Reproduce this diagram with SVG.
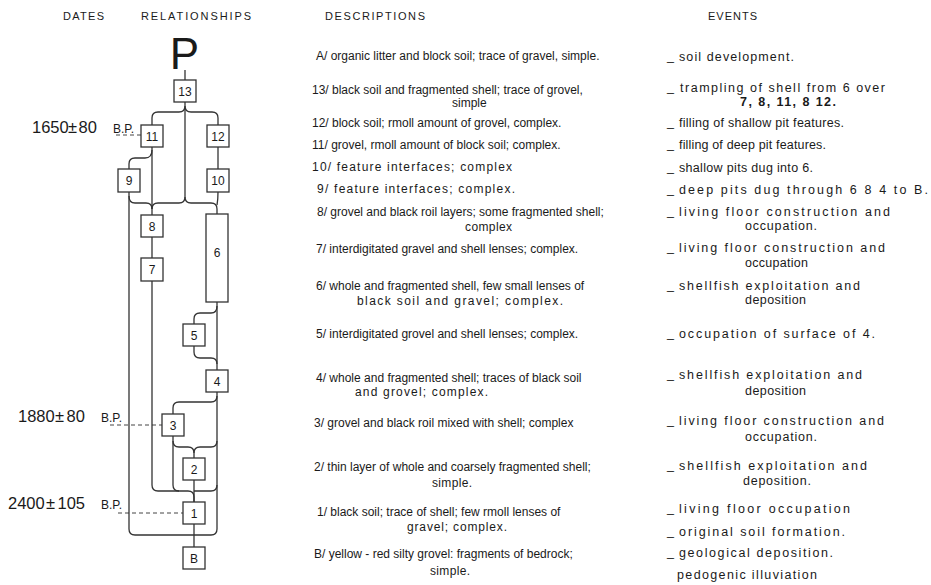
<svg xmlns="http://www.w3.org/2000/svg" width="931" height="585" viewBox="0 0 931 585">
<style>
text{font-family:"Liberation Sans",Arial,sans-serif;fill:#1a1a1a}
.hd{font-size:11px}
.d{font-size:12px}
.e{font-size:12.5px}
.dash{font-size:12.5px}
.box rect{fill:#fff;stroke:#333;stroke-width:1.3}
.box text{font-size:12px;text-anchor:middle}
.cn path{fill:none;stroke:#333;stroke-width:1.3}
.dt{font-size:16.5px}
.bp{font-size:12px}
.dl{fill:none;stroke:#444;stroke-width:1;stroke-dasharray:4 3}
</style>
<rect width="931" height="585" fill="#fff"/>
<g id="headers">
<text class="hd" x="63" y="19.5" textLength="41" lengthAdjust="spacing">DATES</text>
<text class="hd" x="141" y="19.5" textLength="110" lengthAdjust="spacing">RELATIONSHIPS</text>
<text class="hd" x="325" y="19.5" textLength="100" lengthAdjust="spacing">DESCRIPTIONS</text>
<text class="hd" x="708" y="19.5" textLength="49" lengthAdjust="spacing">EVENTS</text>
</g>
<text id="P" x="184.5" y="69" font-size="44" text-anchor="middle">P</text>
<g id="dates">
<text class="dt" x="32" y="133">1650<tspan x="68">±</tspan><tspan x="78.5">80</tspan><tspan class="bp" x="113">B.P.</tspan></text>
<text class="dt" x="18" y="422">1880<tspan x="55">±</tspan><tspan x="66.5">80</tspan><tspan class="bp" x="101">B.P.</tspan></text>
<text class="dt" x="8" y="509">2400<tspan x="46">±</tspan><tspan x="57.5">105</tspan><tspan class="bp" x="101">B.P.</tspan></text>
<path class="dl" d="M116,135 H141" stroke-dasharray="2 2"/>
<path class="dl" d="M110,425 H162"/>
<path class="dl" d="M118,513 H183"/>
</g>
<g class="cn" id="connectors">
<path d="M185,70 V80"/>
<path d="M152,125 V118 Q152,112 158,112 H179 Q185,112 185,106 Q185,112 191,112 H212 Q218,112 218,118 V125"/>
<path d="M185,102 V197"/>
<path d="M152,147 V215"/>
<path d="M152,150 Q152,158 145,158 H135 Q129,158 129,164 V169"/>
<path d="M218,147 V169"/>
<path d="M129,192 V529 Q129,535 135,535 H211 Q217,535 217,529 V392"/>
<path d="M129,196 Q129,203 135,203 H146 Q152,203 152,209"/>
<path d="M185,197 Q185,203 179,203 H158 Q152,203 152,209"/>
<path d="M185,197 Q185,203 191,203 H211 Q217,203 217,209 V214"/>
<path d="M218,192 Q218,200 217,205"/>
<path d="M152,237 V258"/>
<path d="M152,281 V485 Q152,491 158,491 H188 Q194,491 194,497 V502"/>
<path d="M217,302 V370"/>
<path d="M217,306 Q217,313 211,313 H200 Q194,313 194,319 V324"/>
<path d="M194,346 V352 Q194,358 200,358 H211 Q217,358 217,364"/>
<path d="M217,396 Q217,402 211,402 H179 Q173,402 173,408 V414"/>
<path d="M173,436 V485 Q173,491 179,491"/>
<path d="M173,441 Q173,447 179,447 H188 Q194,447 194,453 V458"/>
<path d="M194,453 Q194,447 200,447 H211 Q217,447 217,441"/>
<path d="M217,485 Q217,491 211,491 H194"/>
<path d="M194,480 V502"/>
<path d="M194,524 V547"/>
</g>
<g class="box" id="n13"><rect x="174" y="80" width="22" height="22"/><text x="185" y="95.5">13</text></g>
<g class="box" id="n11"><rect x="141" y="125" width="22" height="22"/><text x="152" y="140.5">11</text></g>
<g class="box" id="n12"><rect x="207" y="125" width="22" height="22"/><text x="218" y="140.5">12</text></g>
<g class="box" id="n9"><rect x="118" y="169" width="22" height="23"/><text x="129" y="185">9</text></g>
<g class="box" id="n10"><rect x="207" y="169" width="22" height="23"/><text x="218" y="185">10</text></g>
<g class="box" id="n8"><rect x="141" y="215" width="22" height="22"/><text x="152" y="230.5">8</text></g>
<g class="box" id="n7"><rect x="141" y="258" width="22" height="23"/><text x="152" y="274">7</text></g>
<g class="box" id="n6"><rect x="206" y="214" width="22" height="88"/><text x="217" y="257">6</text></g>
<g class="box" id="n5"><rect x="183" y="324" width="22" height="22"/><text x="194" y="339.5">5</text></g>
<g class="box" id="n4"><rect x="206" y="370" width="22" height="22"/><text x="217" y="385.5">4</text></g>
<g class="box" id="n3"><rect x="162" y="414" width="22" height="22"/><text x="173" y="429.5">3</text></g>
<g class="box" id="n2"><rect x="183" y="458" width="22" height="22"/><text x="194" y="473.5">2</text></g>
<g class="box" id="n1"><rect x="183" y="502" width="22" height="22"/><text x="194" y="517.5">1</text></g>
<g class="box" id="nB"><rect x="183" y="547" width="22" height="22"/><text x="194" y="562.5">B</text></g>
<g id="descriptions">
<text class="d" x="316" y="60">A/ organic litter and block soil; trace of gravel, simple.</text>
<text class="d" x="312" y="94">13/ black soil and fragmented shell; trace of grovel,</text>
<text class="d" x="452" y="107">simple</text>
<text class="d" x="312" y="127">12/ block soil; rmoll amount of grovel, complex.</text>
<text class="d" x="312" y="149">11/ grovel, rmoll amount of block soil; complex.</text>
<text class="d" x="312" y="171" textLength="200" lengthAdjust="spacing">10/ feature interfaces; complex</text>
<text class="d" x="317" y="193" textLength="198" lengthAdjust="spacing">9/ feature interfaces; complex.</text>
<text class="d" x="317" y="216">8/ grovel and black roil layers; some fragmented shell;</text>
<text class="d" x="465" y="231" textLength="47" lengthAdjust="spacing">complex</text>
<text class="d" x="316" y="253">7/ interdigitated gravel and shell lenses; complex.</text>
<text class="d" x="316" y="290">6/ whole and fragmented shell, few small lenses of</text>
<text class="d" x="357" y="305" textLength="206" lengthAdjust="spacing">black soil and gravel; complex.</text>
<text class="d" x="316" y="338">5/ interdigitated grovel and shell lenses; complex.</text>
<text class="d" x="316" y="382">4/ whole and fragmented shell; traces of black soil</text>
<text class="d" x="355" y="396" textLength="133" lengthAdjust="spacing">and grovel; complex.</text>
<text class="d" x="314" y="427">3/ grovel and black roil mixed with shell; complex</text>
<text class="d" x="314" y="471">2/ thin layer of whole and coarsely fragmented shell;</text>
<text class="d" x="432" y="487" textLength="40" lengthAdjust="spacing">simple.</text>
<text class="d" x="317" y="516">1/ black soil; trace of shell; few rmoll lenses of</text>
<text class="d" x="407" y="531" textLength="100" lengthAdjust="spacing">gravel; complex.</text>
<text class="d" x="314" y="558">B/ yellow - red silty grovel: fragments of bedrock;</text>
<text class="d" x="430" y="575" textLength="40" lengthAdjust="spacing">simple.</text>
</g>
<g id="events">
<text class="dash" x="667" y="60">_</text>
<text class="e" x="679" y="61" textLength="115" lengthAdjust="spacing">soil development.</text>
<text class="dash" x="667" y="91">_</text>
<text class="e" x="680" y="92" textLength="205" lengthAdjust="spacing">trampling of shell from 6 over</text>
<text class="e" x="740" y="106" font-size="11.5" font-weight="bold" textLength="96" lengthAdjust="spacing">7, 8, 11, 8 12.</text>
<text class="dash" x="667" y="126">_</text>
<text class="e" x="679" y="127" textLength="165" lengthAdjust="spacing">filling of shallow pit features.</text>
<text class="dash" x="667" y="148">_</text>
<text class="e" x="679" y="149" textLength="147" lengthAdjust="spacing">filling of deep pit features.</text>
<text class="dash" x="667" y="171">_</text>
<text class="e" x="679" y="172" textLength="134" lengthAdjust="spacing">shallow pits dug into 6.</text>
<text class="dash" x="667" y="193">_</text>
<text class="e" x="679" y="194" textLength="249" lengthAdjust="spacing">deep pits dug through 6 8 4 to B.</text>
<text class="dash" x="667" y="215">_</text>
<text class="e" x="679" y="216" textLength="211" lengthAdjust="spacing">living floor construction and</text>
<text class="e" x="745" y="230" textLength="72" lengthAdjust="spacing">occupation.</text>
<text class="dash" x="667" y="251">_</text>
<text class="e" x="679" y="252" textLength="206" lengthAdjust="spacing">living floor construction and</text>
<text class="e" x="745" y="267" textLength="63" lengthAdjust="spacing">occupation</text>
<text class="dash" x="667" y="289">_</text>
<text class="e" x="679" y="290" textLength="181" lengthAdjust="spacing">shellfish exploitation and</text>
<text class="e" x="745" y="304" textLength="61" lengthAdjust="spacing">deposition</text>
<text class="dash" x="667" y="337">_</text>
<text class="e" x="679" y="338" textLength="196" lengthAdjust="spacing">occupation of surface of 4.</text>
<text class="dash" x="667" y="378">_</text>
<text class="e" x="679" y="379" textLength="183" lengthAdjust="spacing">shellfish exploitation and</text>
<text class="e" x="745" y="395" textLength="61" lengthAdjust="spacing">deposition</text>
<text class="dash" x="667" y="424">_</text>
<text class="e" x="679" y="425" textLength="205" lengthAdjust="spacing">living floor construction and</text>
<text class="e" x="745" y="441" textLength="72" lengthAdjust="spacing">occupation.</text>
<text class="dash" x="667" y="469">_</text>
<text class="e" x="679" y="470" textLength="188" lengthAdjust="spacing">shellfish exploitation and</text>
<text class="e" x="743" y="485" textLength="68" lengthAdjust="spacing">deposition.</text>
<text class="dash" x="667" y="512">_</text>
<text class="e" x="679" y="513" textLength="171" lengthAdjust="spacing">living floor occupation</text>
<text class="dash" x="667" y="535">_</text>
<text class="e" x="679" y="536" textLength="166" lengthAdjust="spacing">original soil formation.</text>
<text class="dash" x="667" y="556">_</text>
<text class="e" x="679" y="557" textLength="154" lengthAdjust="spacing">geological deposition.</text>
<text class="e" x="677" y="579" textLength="140" lengthAdjust="spacing">pedogenic illuviation</text>
</g>
</svg>
